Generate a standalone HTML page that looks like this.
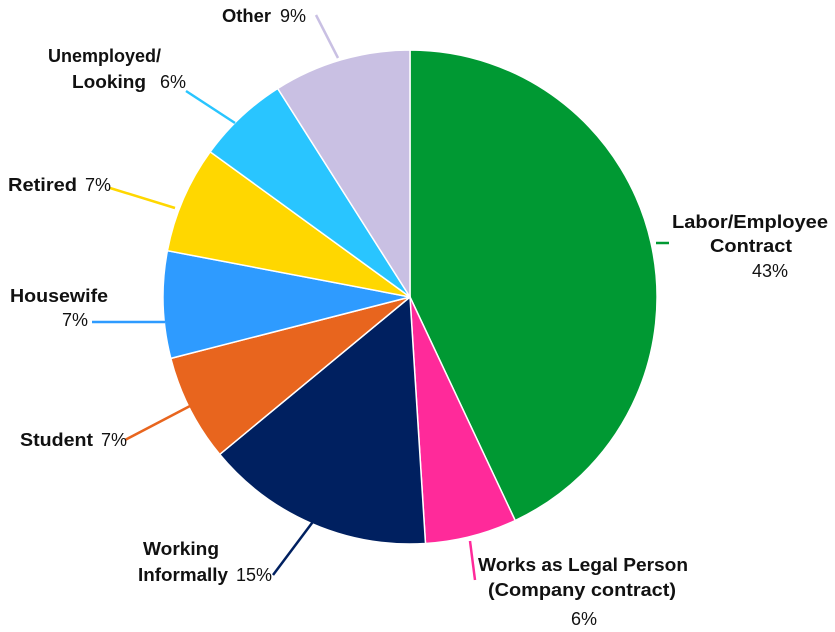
<!DOCTYPE html>
<html><head><meta charset="utf-8"><style>
html,body{margin:0;padding:0;background:#fff;}
svg{display:block;}
text{font-family:"Liberation Sans",Arial,sans-serif;font-size:18px;fill:#111;}
.b{font-weight:bold;}
</style></head><body>
<svg width="835" height="632" viewBox="0 0 835 632" xmlns="http://www.w3.org/2000/svg">
<g stroke="#fff" stroke-width="1.5">
<path d="M410,297 L410,50 A247,247 0 0 1 515.2,520.5 Z" fill="#009933"/>
<path d="M410,297 L515.2,520.5 A247,247 0 0 1 425.5,543.5 Z" fill="#FF2A9A"/>
<path d="M410,297 L425.5,543.5 A247,247 0 0 1 219.7,454.4 Z" fill="#002060"/>
<path d="M410,297 L219.7,454.4 A247,247 0 0 1 170.8,358.4 Z" fill="#E8651E"/>
<path d="M410,297 L170.8,358.4 A247,247 0 0 1 167.4,250.7 Z" fill="#2E9BFF"/>
<path d="M410,297 L167.4,250.7 A247,247 0 0 1 210.2,151.8 Z" fill="#FFD700"/>
<path d="M410,297 L210.2,151.8 A247,247 0 0 1 277.7,88.5 Z" fill="#29C5FF"/>
<path d="M410,297 L277.7,88.5 A247,247 0 0 1 410,50 Z" fill="#C9C0E3"/>
</g>
<g stroke-width="2.5" fill="none">
<line x1="656" y1="243" x2="669" y2="243" stroke="#009933"/>
<line x1="470" y1="541" x2="475" y2="580" stroke="#FF2A9A"/>
<line x1="318" y1="515" x2="273" y2="575" stroke="#002060"/>
<line x1="190" y1="406" x2="125" y2="440" stroke="#E8651E"/>
<line x1="165" y1="322" x2="92" y2="322" stroke="#2E9BFF"/>
<line x1="175" y1="208" x2="110" y2="188" stroke="#FFD700"/>
<line x1="235" y1="123" x2="186" y2="91" stroke="#29C5FF"/>
<line x1="338" y1="58" x2="316" y2="15" stroke="#C9C0E3"/>
</g>
<g>
<text class="b" x="672" y="228" textLength="156" lengthAdjust="spacingAndGlyphs">Labor/Employee</text>
<text class="b" x="710" y="252" textLength="82" lengthAdjust="spacingAndGlyphs">Contract</text>
<text x="752" y="277">43%</text>
<text class="b" x="478" y="571" textLength="210" lengthAdjust="spacingAndGlyphs">Works as Legal Person</text>
<text class="b" x="488" y="596" textLength="188" lengthAdjust="spacingAndGlyphs">(Company contract)</text>
<text x="571" y="625">6%</text>
<text class="b" x="143" y="555" textLength="76" lengthAdjust="spacingAndGlyphs">Working</text>
<text class="b" x="138" y="581" textLength="90" lengthAdjust="spacingAndGlyphs">Informally</text>
<text x="236" y="581">15%</text>
<text class="b" x="20" y="446" textLength="73" lengthAdjust="spacingAndGlyphs">Student</text>
<text x="101" y="446">7%</text>
<text class="b" x="10" y="302" textLength="98" lengthAdjust="spacingAndGlyphs">Housewife</text>
<text x="62" y="326">7%</text>
<text class="b" x="8" y="191" textLength="69" lengthAdjust="spacingAndGlyphs">Retired</text>
<text x="85" y="191">7%</text>
<text class="b" x="48" y="62">Unemployed/</text>
<text class="b" x="72" y="88" textLength="74" lengthAdjust="spacingAndGlyphs">Looking</text>
<text x="160" y="88">6%</text>
<text class="b" x="222" y="22" textLength="49" lengthAdjust="spacingAndGlyphs">Other</text>
<text x="280" y="22">9%</text>
</g>
</svg>
</body></html>
